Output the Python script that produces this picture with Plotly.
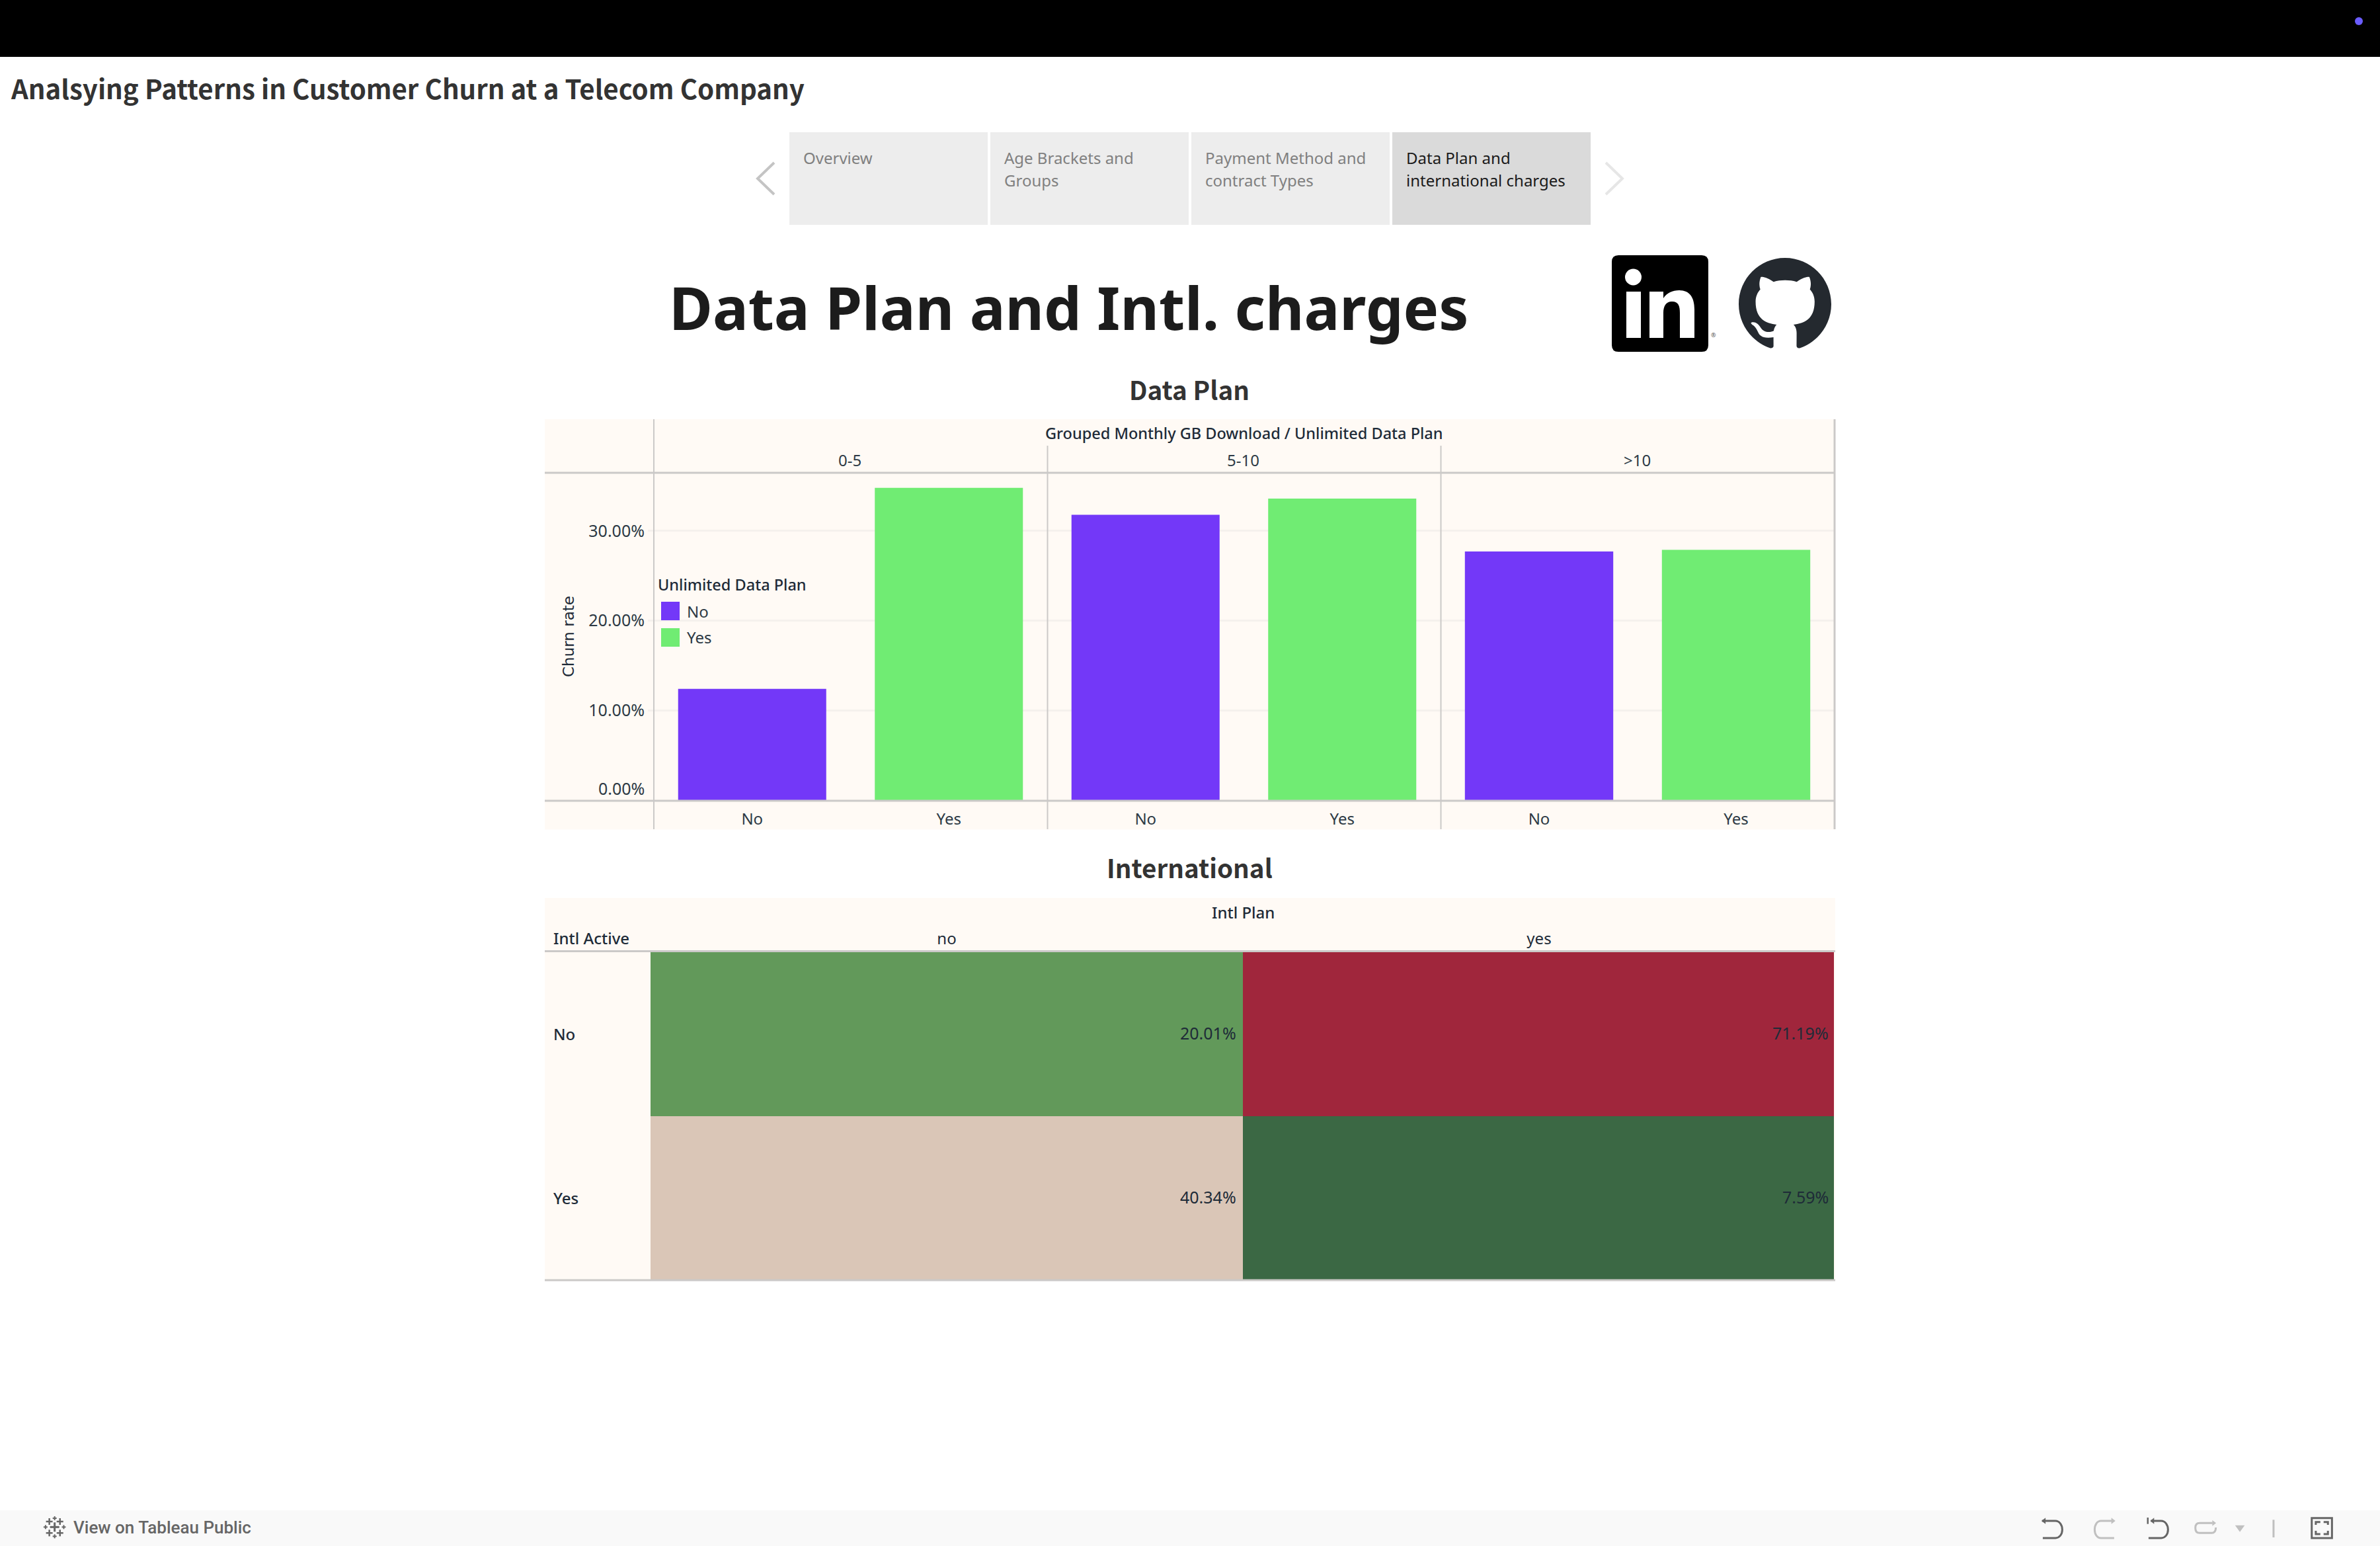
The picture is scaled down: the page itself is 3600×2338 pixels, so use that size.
import re
import plotly.graph_objects as go

# ---------- data ----------
GROUPS = ["0-5", "5-10", ">10"]
PLAN = ["No", "Yes"]
CHURN_NO = [12.4, 31.8, 27.7]
CHURN_YES = [34.8, 33.6, 27.9]
Y_TICKS = [10, 20, 30]
Y_TICK_LABELS = ["10.00%", "20.00%", "30.00%"]
INTL_PLAN = ["no", "yes"]
INTL_ACTIVE = ["No", "Yes"]
INTL_RATES = [[20.01, 71.19], [40.34, 7.59]]
TABS = [["Overview"], ["Age Brackets and", "Groups"], ["Payment Method and", "contract Types"],
        ["Data Plan and", "international charges"]]
HEAT_STOPS = [(7.59, "#3B6844"), (20.01, "#62995A"), (40.34, "#DAC6B7"), (71.19, "#A0263C")]

PURPLE, GREEN = "#7338F8", "#70EC73"
PANEL, RULE = "#FFFAF5", "#CBC9C8"
INK = "#1E2B38"
FONT = "Noto Sans"
HEAD = "Noto Sans CJK SC"
W, H = 3600, 2338


def fx(x):
    return x / W


def fy(y):
    return 1 - y / H


def svg_to_paper(d, sx=1.0, sy=1.0, ox=0.0, oy=0.0):
    """Turn an SVG-like path in local units into a plotly paper-coordinate path."""
    tok = re.findall(r"[a-zA-Z]|-?\d*\.?\d+", d)
    i, cx, cy, lx2, ly2, out, cmd = 0, 0.0, 0.0, None, None, [], None

    def pt(x, y):
        return f"{fx(ox + x * sx):.6f},{fy(oy + y * sy):.6f}"

    def nums(n):
        nonlocal i
        v = [float(t) for t in tok[i:i + n]]
        i += n
        return v

    while i < len(tok):
        if tok[i].isalpha():
            cmd = tok[i]
            i += 1
            if cmd in "zZ":
                out.append("Z")
                continue
        rel = cmd.islower()
        c = cmd.upper()
        bx, by = (cx, cy) if rel else (0.0, 0.0)
        if c in "ML":
            a, b = nums(2)
            cx, cy = bx + a, by + b
            out.append(("M" if c == "M" else "L") + pt(cx, cy))
            lx2 = None
            if c == "M":
                cmd = "l" if rel else "L"
        elif c == "H":
            cx = bx + nums(1)[0]
            out.append("L" + pt(cx, cy))
            lx2 = None
        elif c == "V":
            cy = by + nums(1)[0]
            out.append("L" + pt(cx, cy))
            lx2 = None
        elif c == "Q":
            a = nums(4)
            cx, cy = bx + a[2], by + a[3]
            out.append("Q" + pt(bx + a[0], by + a[1]) + " " + pt(cx, cy))
            lx2 = None
        elif c == "C":
            a = nums(6)
            p1 = (bx + a[0], by + a[1])
            lx2, ly2 = bx + a[2], by + a[3]
            cx, cy = bx + a[4], by + a[5]
            out.append("C" + pt(*p1) + " " + pt(lx2, ly2) + " " + pt(cx, cy))
        elif c == "S":
            a = nums(4)
            p1 = (2 * cx - lx2, 2 * cy - ly2) if lx2 is not None else (cx, cy)
            lx2, ly2 = bx + a[0], by + a[1]
            cx, cy = bx + a[2], by + a[3]
            out.append("C" + pt(*p1) + " " + pt(lx2, ly2) + " " + pt(cx, cy))
        else:
            raise ValueError(cmd)
    return " ".join(out)


shapes, notes = [], []


def rect(x0, y0, x1, y1, fill, layer="below"):
    shapes.append(dict(type="rect", xref="paper", yref="paper", x0=fx(x0), x1=fx(x1), y0=fy(y0), y1=fy(y1),
                       fillcolor=fill, line_width=0, layer=layer))


def line(x0, y0, x1, y1, color=RULE, width=3, layer="above"):
    shapes.append(dict(type="line", xref="paper", yref="paper", x0=fx(x0), x1=fx(x1), y0=fy(y0), y1=fy(y1),
                       line=dict(color=color, width=width), layer=layer))


def path(d, fill=None, color=None, width=0, **kw):
    shapes.append(dict(type="path", xref="paper", yref="paper", path=svg_to_paper(d, **kw),
                       fillcolor=fill or "rgba(0,0,0,0)",
                       line=dict(color=color or "rgba(0,0,0,0)", width=width), layer="above"))


def text(x, y, s, size=24, color=INK, anchor="left", weight=400, family=FONT, **kw):
    notes.append(dict(xref="paper", yref="paper", x=fx(x), y=fy(y), text=s, showarrow=False, xanchor=anchor,
                      yanchor="middle", font=dict(size=size, color=color, family=family, weight=weight),
                      borderpad=0, **kw))


# ---------- page chrome ----------
rect(0, 0, W, 86, "#000000")
shapes.append(dict(type="circle", xref="paper", yref="paper", x0=fx(3562), x1=fx(3574), y0=fy(26), y1=fy(38),
                   fillcolor="#6A5CFF", line_width=0))
text(15, 132, "Analsying Patterns in Customer Churn at a Telecom Company", 40.2, "#333333", weight=700, family=HEAD)

tab_x = [(1194, 1494), (1498, 1798), (1802, 2102), (2106, 2406)]
for k, ((a, b), lines) in enumerate(zip(tab_x, TABS)):
    active = k == 3
    rect(a, 200, b, 340, "#DADADA" if active else "#EDEDED")
    for j, s in enumerate(lines):
        text(a + 20, 238 + 34 * j, s, 24, "#1A1A1A" if active else "#808080")
path("M1171 246 L1146 270 L1171 294", color="#C4C4C4", width=4)
path("M2429 246 L2454 270 L2429 294", color="#E6E6E6", width=4)

text(1616, 464, "Data Plan and Intl. charges", 90, "#1C1C1C", "center", 700)
text(1799, 588, "Data Plan", 38.6, "#333333", "center", 700, HEAD)
text(1799, 1311, "International", 38.6, "#333333", "center", 700, HEAD)

# LinkedIn mark
path("M2448 386 L2574 386 Q2584 386 2584 396 L2584 522 Q2584 532 2574 532 L2448 532 Q2438 532 2438 522 "
     "L2438 396 Q2438 386 2448 386 Z", fill="#000000")
shapes.append(dict(type="circle", xref="paper", yref="paper", x0=fx(2458), x1=fx(2483), y0=fy(406.5), y1=fy(431.5),
                   fillcolor="#FFFFFF", line_width=0))
rect(2460, 441, 2482, 511, "#FFFFFF", "above")
path("M2495 441 L2516 441 L2516 451 C2521 443 2530 439 2540 439 C2556 439 2563 450 2563 468 L2563 511 L2541 511 "
     "L2541 473 C2541 463 2539 456 2529 456 C2520 456 2516 463 2516 473 L2516 511 L2495 511 Z", fill="#FFFFFF")
text(2592, 507, "®", 9, "#555555", "center")

# GitHub mark
path("M8 0C3.58 0 0 3.58 0 8c0 3.54 2.29 6.53 5.47 7.59.4.07.55-.17.55-.38 0-.19-.01-.82-.01-1.49-2.01.37-2.53-.49"
     "-2.69-.94-.09-.23-.48-.94-.82-1.13-.28-.15-.68-.52-.01-.53.63-.01 1.08.58 1.23.82.72 1.21 1.87.87 2.33.66.07"
     "-.52.28-.87.51-1.07-1.78-.2-3.64-.89-3.64-3.95 0-.87.31-1.59.82-2.15-.08-.2-.36-1.02.08-2.12 0 0 .67-.21 2.2.82"
     ".64-.18 1.32-.27 2-.27.68 0 1.36.09 2 .27 1.53-1.04 2.2-.82 2.2-.82.44 1.1.16 1.92.08 2.12.51.56.82 1.27.82 2.15"
     " 0 3.07-1.87 3.75-3.65 3.95.29.25.54.73.54 1.48 0 1.07-.01 1.93-.01 2.2 0 .21.15.46.55.38"
     "C13.71 14.53 16 11.54 16 8c0-4.42-3.58-8-8-8z",
     fill="#24292F", sx=8.75, sy=8.75, ox=2630, oy=390)

# ---------- bar panel ----------
PX0, PX1 = 824, 2776
FACET = [989, 1584, 2179, 2775]
Y_TOP, Y_BASE = 715, 1210
rect(PX0, 634, PX1, 1254.5, PANEL)
line(PX0, Y_TOP, PX1, Y_TOP)
line(PX0, Y_BASE + 1, PX1, Y_BASE + 1)
line(FACET[0], 634, FACET[0], 1254, width=2)
line(FACET[3], 634, FACET[3], 1254, width=3)
for xv in FACET[1:3]:
    line(xv + 0.5, 674, xv + 0.5, 1254, width=2)
text(1882, 655, "Grouped Monthly GB Download / Unlimited Data Plan", 23.5, INK, "center", 500)

fig = go.Figure()
layout_axes = {}
for i, g in enumerate(GROUPS):
    suffix = "" if i == 0 else str(i + 1)
    fig.add_trace(go.Bar(x=PLAN, y=[CHURN_NO[i], CHURN_YES[i]], marker_color=[PURPLE, GREEN], marker_line_width=0,
                         width=0.753, xaxis="x" + suffix, yaxis="y", showlegend=False, name=g))
    layout_axes["xaxis" + suffix] = dict(
        domain=[fx(FACET[i]), fx(FACET[i + 1])], anchor="y", type="category", range=[-0.5, 1.5],
        showgrid=False, zeroline=False, showline=False, ticks="", tickfont=dict(size=24, color="#2E3A45", family=FONT),
        ticklabelstandoff=12, categoryorder="array", categoryarray=PLAN)
    text((FACET[i] + FACET[i + 1]) / 2 - 1, 695, g, 24, "#2E3A45", "center")

layout_axes["yaxis"] = dict(
    domain=[fy(Y_BASE), fy(Y_TOP)], range=[0, (Y_BASE - Y_TOP) / 13.57], anchor="x", tickvals=Y_TICKS,
    ticktext=Y_TICK_LABELS, showgrid=True, gridcolor="#F5F1ED", gridwidth=3, zeroline=False, showline=False,
    ticks="outside", ticklen=8, tickwidth=3, tickcolor="#F5F1ED", ticklabelstandoff=0,
    tickfont=dict(size=25, color="#2E3A45", family=FONT),
    title=dict(text="Churn rate", font=dict(size=23, color=INK, family="DejaVu Sans", weight=500), standoff=15))
text(976, 1192, "0.00%", 25, "#2E3A45", "right")

# legend
text(994, 884, "Unlimited Data Plan", 23.5, INK, weight=500)
for name, col, y0 in zip(PLAN, (PURPLE, GREEN), (910, 950)):
    rect(1000, y0, 1028, y0 + 28, col, "above")
    text(1038, y0 + 14, name, 24, "#2E3A45")

# ---------- heat table ----------
HX0, HX1 = 984, 2776
HY0, HY1 = 1440, 1936
rect(PX0, 1358, PX1, 1936, PANEL)
lo, hi = HEAT_STOPS[0][0], HEAT_STOPS[-1][0]
scale = [[(v - lo) / (hi - lo), c] for v, c in HEAT_STOPS]
fig.add_trace(go.Heatmap(z=INTL_RATES, x=INTL_PLAN, y=INTL_ACTIVE, colorscale=scale, zmin=lo, zmax=hi,
                         showscale=False, xaxis="x4", yaxis="y4", hoverinfo="z"))
layout_axes["xaxis4"] = dict(domain=[fx(HX0), fx(HX1)], anchor="y4", side="top", type="category", showgrid=False,
                             zeroline=False, showline=False, ticks="", ticklabelstandoff=6,
                             tickfont=dict(size=24, color=INK, family=FONT))
layout_axes["yaxis4"] = dict(domain=[fy(HY1), fy(HY0)], anchor="x4", type="category", autorange="reversed",
                             showgrid=False, zeroline=False, showline=False, showticklabels=False, ticks="")
rect(2774, 1440, 2776, 1936, PANEL, "above")
line(PX0, HY0 - 1.5, PX1, HY0 - 1.5)
line(PX0, HY1, PX1, HY1)
text(1880, 1379, "Intl Plan", 24, INK, "center", 500)
text(836, 1418, "Intl Active", 24, INK, weight=500)
for r, name in enumerate(INTL_ACTIVE):
    text(836, 1563 + 248.5 * r, name, 24, INK, weight=500)
    for c in range(len(INTL_PLAN)):
        notes.append(dict(xref="x4", yref="y4", x=c + 0.5, y=r, text=f"{INTL_RATES[r][c]:.2f}%", showarrow=False,
                          xanchor="right", yanchor="middle", xshift=-8, yshift=2,
                          font=dict(size=25, color="#1E2B38", family=FONT)))

# ---------- footer ----------
rect(0, 2284, W, H, "#F9F9F9")
text(110, 2310, "View on Tableau Public", 26, "#666666", weight=500, family="Roboto")


def zl(xz, yz, base=0):
    return base + xz / 2.613, 2270 + yz / 3


for zx, zy, r, wd in [(216, 118, 7, 3), (195, 93, 5, 2.5), (237, 93, 5, 2.5), (195, 145, 5, 2.5), (237, 145, 5, 2.5),
                      (180, 118, 3, 2), (252, 118, 3, 2), (216, 78, 3, 2), (216, 160, 3, 2)]:
    px, py = zl(zx, zy)
    line(px - r, py, px + r, py, "#666666", wd)
    line(px, py - r, px, py + r, "#666666", wd)

DARK, LIGHT = "#666666", "#C0C0C0"


def ic(d, color=DARK, fill=None, width=3):
    path(d, color=color, fill=fill, width=width, sx=1 / 2.613, sy=1 / 3, ox=3000, oy=2270)


ic("M232 90 L285 90 C300 90 312 108 312 130 C312 152 300 168 285 168 L235 168")
ic("M230 90 L246 76 L246 104 Z", fill=DARK, width=0)
ic("M508 90 L465 90 C450 90 440 108 440 130 C440 152 450 168 465 168 L517 168", color=LIGHT)
ic("M522 90 L506 76 L506 104 Z", color=LIGHT, fill=LIGHT, width=0)
ic("M650 75 L650 104", width=2.5)
ic("M662 90 L703 90 C718 90 730 108 730 130 C730 152 718 168 703 168 L653 168")
ic("M660 90 L675 76 L675 104 Z", fill=DARK, width=0)
ic("M906 100 L855 100 C843 100 838 110 838 122 C838 136 843 145 855 145 L902 145 C913 145 919 136 919 120", color=LIGHT)
ic("M920 100 L905 87 L905 113 Z", color=LIGHT, fill=LIGHT, width=0)
ic("M995 110 L1033 110 L1014 140 Z", color=LIGHT, fill=LIGHT, width=0)
ic("M1147 85 L1147 165", color=LIGHT)
ic("M1298 77 L1378 77 L1378 168 L1298 168 Z")
ic("M1314 108 L1314 95 L1332 95 M1345 95 L1362 95 L1362 108 M1362 135 L1362 150 L1345 150 "
   "M1332 150 L1314 150 L1314 135")

fig.update_layout(
    width=W, height=H, margin=dict(l=0, r=0, t=0, b=0, pad=0), paper_bgcolor="#FFFFFF", plot_bgcolor="rgba(0,0,0,0)",
    showlegend=False, barmode="overlay", font=dict(family=FONT, size=24, color=INK),
    shapes=shapes, annotations=notes, **layout_axes)

fig.write_html("out.html", config={"displayModeBar": False},
               post_script="document.body.style.margin='0';document.body.style.overflow='hidden';")
